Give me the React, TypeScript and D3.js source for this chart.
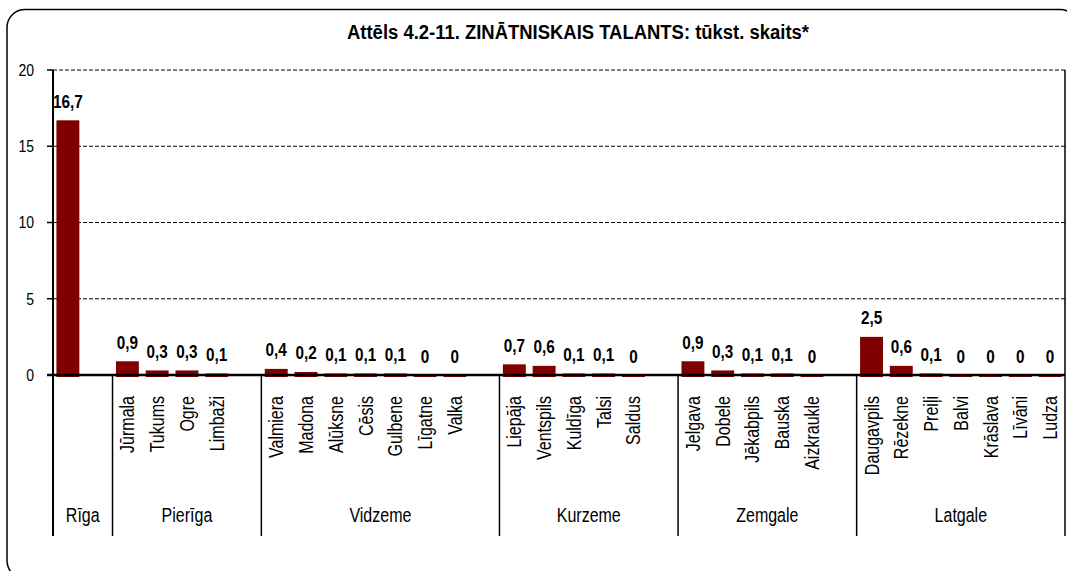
import React from "react";
import * as d3 from "d3";

const title = "Attēls 4.2-11. ZINĀTNISKAIS TALANTS: tūkst. skaits*";
const groupNames = ["Rīga", "Pierīga", "Vidzeme", "Kurzeme", "Zemgale", "Latgale"];
const rigaCities = [""];
const rigaValues = [16.7];
const pierigaCities = ["Jūrmala", "Tukums", "Ogre", "Limbaži"];
const pierigaValues = [0.9, 0.3, 0.3, 0.1];
const vidzemeCities = ["Valmiera", "Madona", "Alūksne", "Cēsis", "Gulbene", "Līgatne", "Valka"];
const vidzemeValues = [0.4, 0.2, 0.1, 0.1, 0.1, 0, 0];
const kurzemeCities = ["Liepāja", "Ventspils", "Kuldīga", "Talsi", "Saldus"];
const kurzemeValues = [0.7, 0.6, 0.1, 0.1, 0];
const zemgaleCities = ["Jelgava", "Dobele", "Jēkabpils", "Bauska", "Aizkraukle"];
const zemgaleValues = [0.9, 0.3, 0.1, 0.1, 0];
const latgaleCities = ["Daugavpils", "Rēzekne", "Preiļi", "Balvi", "Krāslava", "Līvāni", "Ludza"];
const latgaleValues = [2.5, 0.6, 0.1, 0, 0, 0, 0];
const yTicks = [0, 5, 10, 15, 20];

const groupCities = [rigaCities, pierigaCities, vidzemeCities, kurzemeCities, zemgaleCities, latgaleCities];
const groupValues = [rigaValues, pierigaValues, vidzemeValues, kurzemeValues, zemgaleValues, latgaleValues];

type Slot = { key: string; city: string; value: number | null; group: number };
const slots: Slot[] = [];
groupNames.forEach((g, gi) => {
  groupCities[gi].forEach((c, ci) => {
    slots.push({ key: `${gi}-${ci}`, city: c, value: groupValues[gi][ci], group: gi });
  });
  if (gi < groupNames.length - 1) slots.push({ key: `${gi}-blank`, city: "", value: null, group: gi });
});

const W = 1067;
const H = 571;
const left = 53;
const right = 1065;
const top = 70;
const bottom = 375;
const catBottom = 536;
const FONT = "'Liberation Sans', Arial, sans-serif";
const BAR = "#800000";

const fmt = (v: number) => (v === 0 ? "0" : d3.format(".1f")(v).replace(".", ","));

export default function App() {
  const x = d3.scaleBand<string>().domain(slots.map((s) => s.key)).range([left, right]).padding(0);
  const y = d3.scaleLinear().domain([0, 20]).range([bottom, top]);
  const bw = x.bandwidth();
  const barW = bw * 0.77;

  const groupSpans = groupNames.map((g, gi) => {
    const gs = slots.filter((s) => s.group === gi);
    const x0 = x(gs[0].key)!;
    const x1 = x(gs[gs.length - 1].key)! + bw;
    return { name: g, x0, x1 };
  });

  return (
    <svg width={W} height={H} style={{ position: "absolute", left: 0, top: 0, background: "#fff" }}>
      <rect x={0} y={0} width={W} height={H} fill="#fff" />
      <rect x={7} y={9.5} width={1071} height={569} rx={18} ry={18} fill="none" stroke="#000" strokeWidth={1.5} />
      <text
        transform={`translate(578,39) scale(0.9,1)`}
        textAnchor="middle"
        fontFamily={FONT}
        fontWeight="bold"
        fontSize={20.5}
        fill="#000"
      >
        {title}
      </text>

      {/* gridlines */}
      {yTicks.filter((t) => t > 0).map((t) => (
        <line key={"g" + t} x1={left} x2={right} y1={y(t)} y2={y(t)} stroke="#000" strokeWidth={1} strokeDasharray="4,2" />
      ))}

      {/* bars */}
      {slots.filter((s) => s.value !== null).map((s) => (
        <rect
          key={"b" + s.key}
          x={x(s.key)! + (bw - barW) / 2}
          y={y(s.value as number)}
          width={barW}
          height={y(0) - y(s.value as number) + 2}
          fill={BAR}
        />
      ))}

      {/* value labels */}
      {slots.filter((s) => s.value !== null).map((s) => (
        <text
          key={"v" + s.key}
          transform={`translate(${x(s.key)! + bw / 2},${y(s.value as number) - 12.5}) scale(0.85,1)`}
          textAnchor="middle"
          fontFamily={FONT}
          fontWeight="bold"
          fontSize={18}
          fill="#000"
        >
          {fmt(s.value as number)}
        </text>
      ))}

      {/* y axis */}
      <line x1={left} x2={left} y1={top} y2={catBottom} stroke="#000" strokeWidth={2} />
      {yTicks.map((t) => (
        <g key={"t" + t}>
          <line x1={left - 6} x2={left} y1={y(t)} y2={y(t)} stroke="#000" strokeWidth={1.5} />
          <text
            transform={`translate(34,${y(t)}) scale(0.85,1)`}
            dy="0.35em"
            textAnchor="end"
            fontFamily={FONT}
            fontSize={16.5}
            fill="#000"
          >
            {t}
          </text>
        </g>
      ))}

      {/* x axis */}
      <line x1={left - 6} x2={right} y1={bottom} y2={bottom} stroke="#000" strokeWidth={2.5} />
      <line x1={right} x2={right} y1={top} y2={catBottom} stroke="#000" strokeWidth={1.5} />

      {/* group dividers */}
      {groupSpans.map((g, i) => (
        <line key={"d" + i} x1={g.x0} x2={g.x0} y1={bottom} y2={catBottom} stroke="#000" strokeWidth={1.5} />
      ))}

      {/* city labels */}
      {slots.filter((s) => s.city).map((s) => {
        const cx = x(s.key)! + bw / 2;
        return (
          <text
            key={"c" + s.key}
            transform={`translate(${cx},396) rotate(-90) scale(0.8,1)`}
            dy="0.35em"
            textAnchor="end"
            fontFamily={FONT}
            fontSize={20}
            fill="#000"
          >
            {s.city}
          </text>
        );
      })}

      {/* group labels */}
      {groupSpans.map((g, i) => (
        <text
          key={"gl" + i}
          transform={`translate(${(g.x0 + g.x1) / 2},522) scale(0.8,1)`}
          textAnchor="middle"
          fontFamily={FONT}
          fontSize={20}
          fill="#000"
        >
          {g.name}
        </text>
      ))}
    </svg>
  );
}
